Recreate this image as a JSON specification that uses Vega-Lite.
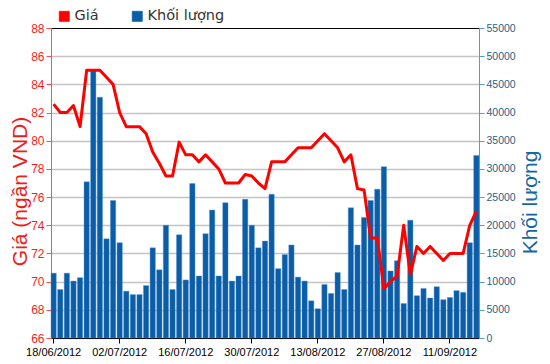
{
  "$schema": "https://vega.github.io/schema/vega-lite/v6.json",
  "width": 428,
  "height": 310,
  "autosize": {"type": "none"},
  "padding": {"left": 51, "top": 28, "right": 71, "bottom": 26},
  "background": "white",
  "config": {"view": {"stroke": null}, "font": "Liberation Sans"},
  "data": {"values": [
    {"date": "18/06/2012", "price": 82.6, "volume": 11500},
    {"date": "19/06/2012", "price": 82.0, "volume": 8600},
    {"date": "20/06/2012", "price": 82.0, "volume": 11500},
    {"date": "21/06/2012", "price": 82.5, "volume": 10100},
    {"date": "22/06/2012", "price": 81.0, "volume": 10700},
    {"date": "25/06/2012", "price": 85.0, "volume": 27700},
    {"date": "26/06/2012", "price": 85.0, "volume": 47500},
    {"date": "27/06/2012", "price": 85.0, "volume": 42700},
    {"date": "28/06/2012", "price": 84.5, "volume": 17600},
    {"date": "29/06/2012", "price": 84.0, "volume": 24400},
    {"date": "02/07/2012", "price": 82.0, "volume": 16900},
    {"date": "03/07/2012", "price": 81.0, "volume": 8300},
    {"date": "04/07/2012", "price": 81.0, "volume": 7700},
    {"date": "05/07/2012", "price": 81.0, "volume": 7700},
    {"date": "06/07/2012", "price": 80.5, "volume": 9300},
    {"date": "09/07/2012", "price": 79.2, "volume": 16000},
    {"date": "10/07/2012", "price": 78.4, "volume": 12100},
    {"date": "11/07/2012", "price": 77.5, "volume": 20000},
    {"date": "12/07/2012", "price": 77.5, "volume": 8600},
    {"date": "13/07/2012", "price": 79.9, "volume": 18300},
    {"date": "16/07/2012", "price": 79.0, "volume": 10300},
    {"date": "17/07/2012", "price": 79.0, "volume": 27400},
    {"date": "18/07/2012", "price": 78.5, "volume": 11000},
    {"date": "19/07/2012", "price": 79.0, "volume": 18500},
    {"date": "20/07/2012", "price": 78.5, "volume": 22700},
    {"date": "23/07/2012", "price": 78.0, "volume": 11000},
    {"date": "24/07/2012", "price": 77.0, "volume": 24000},
    {"date": "25/07/2012", "price": 77.0, "volume": 10100},
    {"date": "26/07/2012", "price": 77.0, "volume": 11000},
    {"date": "27/07/2012", "price": 77.6, "volume": 24600},
    {"date": "30/07/2012", "price": 77.5, "volume": 20000},
    {"date": "31/07/2012", "price": 77.0, "volume": 16000},
    {"date": "01/08/2012", "price": 76.6, "volume": 17200},
    {"date": "02/08/2012", "price": 78.5, "volume": 25500},
    {"date": "03/08/2012", "price": 78.5, "volume": 12300},
    {"date": "06/08/2012", "price": 78.5, "volume": 14800},
    {"date": "07/08/2012", "price": 79.0, "volume": 16500},
    {"date": "08/08/2012", "price": 79.5, "volume": 10800},
    {"date": "09/08/2012", "price": 79.5, "volume": 10100},
    {"date": "10/08/2012", "price": 79.5, "volume": 6600},
    {"date": "13/08/2012", "price": 80.0, "volume": 5200},
    {"date": "14/08/2012", "price": 80.5, "volume": 9500},
    {"date": "15/08/2012", "price": 80.0, "volume": 7900},
    {"date": "16/08/2012", "price": 79.5, "volume": 11600},
    {"date": "17/08/2012", "price": 78.5, "volume": 8600},
    {"date": "20/08/2012", "price": 79.0, "volume": 23100},
    {"date": "21/08/2012", "price": 76.6, "volume": 16500},
    {"date": "22/08/2012", "price": 76.5, "volume": 21400},
    {"date": "23/08/2012", "price": 73.1, "volume": 24400},
    {"date": "24/08/2012", "price": 73.1, "volume": 26400},
    {"date": "27/08/2012", "price": 69.5, "volume": 30400},
    {"date": "28/08/2012", "price": 70.0, "volume": 11900},
    {"date": "29/08/2012", "price": 70.4, "volume": 13700},
    {"date": "30/08/2012", "price": 74.0, "volume": 6100},
    {"date": "31/08/2012", "price": 70.5, "volume": 20900},
    {"date": "04/09/2012", "price": 72.5, "volume": 7500},
    {"date": "05/09/2012", "price": 72.0, "volume": 8800},
    {"date": "06/09/2012", "price": 72.5, "volume": 7100},
    {"date": "07/09/2012", "price": 72.0, "volume": 9100},
    {"date": "10/09/2012", "price": 71.5, "volume": 6800},
    {"date": "11/09/2012", "price": 72.0, "volume": 7200},
    {"date": "12/09/2012", "price": 72.0, "volume": 8400},
    {"date": "13/09/2012", "price": 72.0, "volume": 8100},
    {"date": "14/09/2012", "price": 74.0, "volume": 16900},
    {"date": "17/09/2012", "price": 75.0, "volume": 32400}
  ]},
  "encoding": {
    "x": {
      "field": "date", "type": "ordinal", "sort": null,
      "scale": {"paddingInner": 0.2, "paddingOuter": 0},
      "axis": {
        "values": ["18/06/2012", "02/07/2012", "16/07/2012", "30/07/2012", "13/08/2012", "27/08/2012", "11/09/2012"],
        "labelAngle": 0, "title": null,
        "domainColor": "#000000", "tickColor": "#000000", "labelColor": "#000000",
        "labelFontSize": 11, "labelFont": "Liberation Sans", "tickSize": 5, "labelPadding": 3,
        "domainWidth": 1, "tickWidth": 1
      }
    }
  },
  "layer": [
    {
      "mark": {"type": "bar", "stroke": "#4a8fd0", "strokeWidth": 0.4},
      "encoding": {
        "y": {
          "field": "volume", "type": "quantitative",
          "scale": {"domain": [0, 55000], "nice": false},
          "axis": {
            "orient": "right", "title": "Khối lượng", "grid": false,
            "values": [0, 5000, 10000, 15000, 20000, 25000, 30000, 35000, 40000, 45000, 50000, 55000],
            "format": "d",
            "labelColor": "#1f5f8b", "labelFontSize": 10.5, "labelFont": "Liberation Sans",
            "domainColor": "#5b9cc6", "tickColor": "#5b9cc6", "tickSize": 5, "labelPadding": 2,
            "titleColor": "#16679f", "titleFontSize": 21, "titleFont": "Liberation Sans", "titleFontWeight": "normal",
            "titleAngle": -90, "titleAlign": "center", "titleBaseline": "middle",
            "titleX": 51, "titleY": 174
          }
        },
        "color": {"datum": "Khối lượng"}
      }
    },
    {
      "mark": {"type": "line", "strokeWidth": 3, "strokeJoin": "round"},
      "encoding": {
        "y": {
          "field": "price", "type": "quantitative",
          "scale": {"domain": [66, 88], "nice": false, "zero": false},
          "axis": {
            "orient": "left", "title": "Giá (ngần VND)",
            "values": [66, 68, 70, 72, 74, 76, 78, 80, 82, 84, 86, 88],
            "grid": true,
            "gridColor": {"condition": {"test": "datum.value === 88", "value": "#000000"}, "value": "#c4c4c4"},
            "gridWidth": {"condition": {"test": "datum.value === 88", "value": 1.2}, "value": 1.7},
            "labelColor": "#ff1a1a", "labelFontSize": 12, "labelFont": "Liberation Sans",
            "domainColor": "#ff5050", "tickColor": "#ff5050", "tickSize": 5, "labelPadding": 2,
            "titleColor": "#ee1c1c", "titleFontSize": 21, "titleFont": "Liberation Sans", "titleFontWeight": "normal",
            "titleAngle": -90, "titleAlign": "center", "titleBaseline": "middle",
            "titleX": -31, "titleY": 163
          }
        },
        "color": {
          "datum": "Giá",
          "scale": {"domain": ["Giá", "Khối lượng"], "range": ["#ff0000", "#0b5da8"]},
          "legend": {
            "title": null, "orient": "none", "legendX": 6, "legendY": -19,
            "direction": "horizontal", "symbolType": "square", "symbolSize": 100,
            "labelFontSize": 14.5, "labelFont": "DejaVu Sans", "labelColor": "#333333",
            "columnPadding": 31, "labelOffset": 3, "symbolStrokeWidth": 0.8,
            "encode": {"symbols": {"update": {"fill": {"scale": "color", "field": "value"}, "stroke": {"value": "#444444"}, "opacity": {"value": 1}}}}
          }
        }
      }
    }
  ],
  "resolve": {"scale": {"y": "independent"}}
}
